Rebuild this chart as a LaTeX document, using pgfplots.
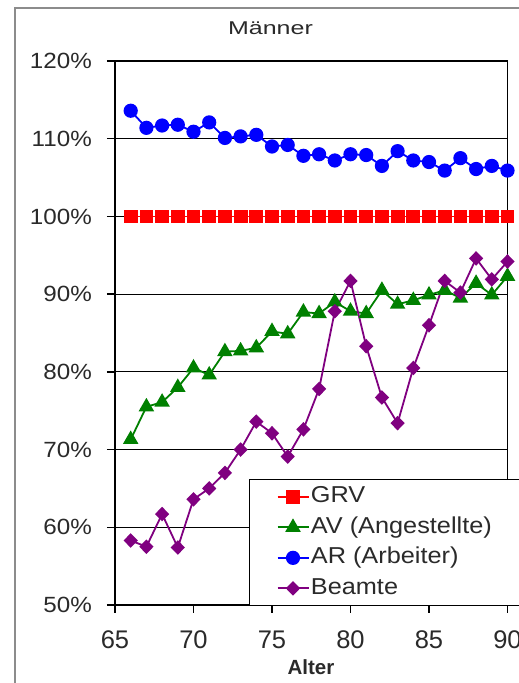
\documentclass[border=0pt]{standalone}
\usepackage{pgfplots}
\usepackage{pgfplotstable}
\pgfplotsset{compat=1.18}
\usepackage{fontspec}
\setmainfont{Liberation Sans}
\newfontfamily\ticksfont{Liberation Sans}[FakeStretch=1.1]
\newfontfamily\titlefont{Liberation Sans}[FakeStretch=1.35]
\newfontfamily\legfont{Liberation Sans}[FakeStretch=1.1]

\definecolor{grvred}{HTML}{FF0000}
\definecolor{avgreen}{HTML}{008000}
\definecolor{arblue}{HTML}{0000FF}
\definecolor{bmpurple}{HTML}{800080}
\definecolor{labelgray}{HTML}{2A2A2A}
\definecolor{framegray}{HTML}{8C8C8C}

% Relative values (in %) by age
\pgfplotstableread{
age grv  av    ar     beamte
66  100  71.3  113.6  58.3
67  100  75.5  111.4  57.5
68  100  76.1  111.7  61.7
69  100  78.0  111.8  57.4
70  100  80.5  110.9  63.6
71  100  79.6  112.1  65.0
72  100  82.6  110.1  67.0
73  100  82.7  110.3  70.0
74  100  83.1  110.5  73.6
75  100  85.2  109.0  72.1
76  100  84.9  109.2  69.1
77  100  87.7  107.8  72.6
78  100  87.5  108.0  77.8
79  100  89.0  107.2  87.8
80  100  87.8  108.0  91.7
81  100  87.5  107.9  83.3
82  100  90.5  106.5  76.7
83  100  88.7  108.4  73.4
84  100  89.2  107.2  80.5
85  100  89.9  107.0  86.0
86  100  90.5  105.9  91.7
87  100  89.5  107.5  90.2
88  100  91.4  106.1  94.6
89  100  89.9  106.5  91.9
90  100  92.3  105.9  94.2
}\datatable

\begin{document}
\begin{tikzpicture}[x=1pt,y=1pt]
\useasboundingbox (0,0) rectangle (519,683);
\clip (0,0) rectangle (519,683);
\fill[white] (0,0) rectangle (519,683);
% chart area frame
\draw[framegray, line width=2pt] (14.5,-5) -- (14.5,674.5) -- (540,674.5);

\begin{axis}[
  at={(115pt,78pt)}, anchor=south west,
  scale only axis, width=392.5pt, height=544pt,
  xmin=65, xmax=90, ymin=50, ymax=120,
  xtick={65,70,...,90},
  xticklabels={65,70,75,80,85,90},
  ytick={50,60,...,120},
  yticklabels={50\%,60\%,70\%,80\%,90\%,100\%,110\%,120\%},
  tick pos=left,
  tick align=outside,
  major tick length=8pt,
  every tick/.style={black, line width=1.4pt},
  axis line style={black, line width=1.4pt},
  ymajorgrids,
  grid style={black, line width=1.2pt},
  xticklabel style={font=\fontsize{25.5}{28}\selectfont, text=labelgray, anchor=center, inner sep=0pt, yshift=-27pt},
  yticklabel style={font=\ticksfont\fontsize{22}{24}\selectfont, text=labelgray, anchor=east, inner sep=0pt, xshift=-15pt},
  every axis plot/.append style={line width=1.8pt},
  legend cell align=left,
  % short sample line with a blank lead-in inside the legend box
  legend image code/.code={
    \path (0pt,0pt);
    \draw[#1, mark=none] (26pt,0pt) -- (57pt,0pt);
    \draw[#1, only marks] plot coordinates {(41.5pt,0pt)};
  },
  legend style={
    at={(0.3414,0.2316)}, anchor=north west,
    draw=black, line width=1.2pt, fill=white,
    inner xsep=1pt, inner ysep=2pt, row sep=0pt,
    font=\legfont\fontsize{23}{27}\selectfont, text=labelgray,
    nodes={inner xsep=1.5pt, inner ysep=0pt, text height=21pt, text depth=9.5pt},
  },
]
\addplot[grvred, mark=square*, mark size=6pt, mark options={solid}]
  table[x=age, y=grv] {\datatable};
\addlegendentry{GRV}
\addplot[avgreen, mark=triangle*, mark size=7.2pt, mark options={solid}]
  table[x=age, y=av] {\datatable};
\addlegendentry{AV (Angestellte)}
\addplot[arblue, mark=*, mark size=6.2pt, mark options={solid}]
  table[x=age, y=ar] {\datatable};
\addlegendentry{AR (Arbeiter)}
\addplot[bmpurple, mark=diamond*, mark size=6pt, mark options={solid, xscale=1.3}]
  table[x=age, y=beamte] {\datatable};
\addlegendentry{Beamte\rule{0pt}{0pt}\kern150pt}
\end{axis}

\node[font=\titlefont\fontsize{18.5}{20}\selectfont, text=labelgray] at (270.5,655) {Männer};
\node[font=\bfseries\fontsize{20.5}{22}\selectfont, text=labelgray, inner sep=0pt] at (311,15.5) {Alter};
\end{tikzpicture}
\end{document}
